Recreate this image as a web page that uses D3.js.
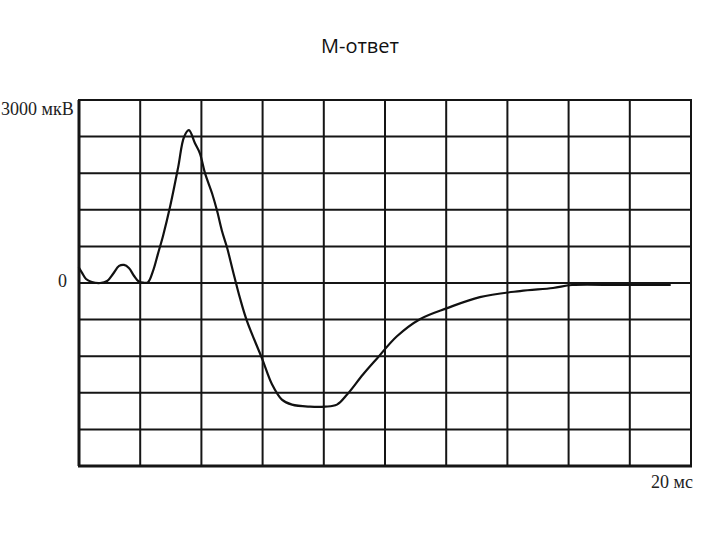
<!DOCTYPE html>
<html><head><meta charset="utf-8">
<script src="https://cdn.jsdelivr.net/npm/d3@7"></script>
<style>html,body{margin:0;padding:0;background:#fff;}</style>
</head><body>
<svg id="chart" width="720" height="540"></svg>
<script>
// Data (time in ms, amplitude in µV)
const timeMs = [0, 0.1, 0.23, 0.42, 0.69, 0.92, 1.11, 1.31, 1.47, 1.63, 1.8, 1.95, 2.1, 2.25, 2.42, 2.58, 2.75, 2.97, 3.24, 3.43, 3.59, 3.79, 3.95, 4.12, 4.35, 4.51, 4.67, 4.84, 5.03, 5.26, 5.49, 5.98, 6.31, 6.63, 6.96, 7.55, 8.04, 8.43, 8.76, 9.28, 9.74, 10.39, 11.14, 12.03, 13.1, 14.41, 15.49, 16.11, 17.68, 19.31];
const amplitude = [247, 165, 66, 16, 0, 33, 148, 280, 297, 247, 115, 25, 5, 10, 198, 478, 780, 1236, 1895, 2390, 2505, 2291, 2126, 1796, 1467, 1187, 857, 577, 198, -247, -626, -1236, -1664, -1912, -1994, -2027, -2027, -1994, -1829, -1500, -1236, -873, -593, -412, -231, -132, -82, -33, -33, -33];
const xGridTicks = [0, 2, 4, 6, 8, 10, 12, 14, 16, 18, 20];
const yGridTicks = [-3000, -2400, -1800, -1200, -600, 0, 600, 1200, 1800, 2400, 3000];
const title = "М-ответ";
const yTopLabel = "3000 мкВ";
const yZeroLabel = "0";
const xEndLabel = "20 мс";

const svg = d3.select("#chart");
const x = d3.scaleLinear().domain([0, 20]).range([79, 691]);
const y = d3.scaleLinear().domain([-3000, 3000]).range([466, 100]);

// grid
const g = svg.append("g");
g.selectAll("line.v").data(xGridTicks).enter().append("line")
  .attr("x1", d => x(d)).attr("x2", d => x(d))
  .attr("y1", y(3000)).attr("y2", y(-3000))
  .attr("stroke", "#151515").attr("stroke-width", d => d === 0 ? 3 : 2);
g.selectAll("line.h").data(yGridTicks).enter().append("line")
  .attr("x1", x(0) - 1).attr("x2", x(20) + 1)
  .attr("y1", d => y(d)).attr("y2", d => y(d))
  .attr("stroke", "#151515").attr("stroke-width", d => d === -3000 ? 3 : 2);

// curve
const pts = timeMs.map((t, i) => [t, amplitude[i]]);
const line = d3.line().x(d => x(d[0])).y(d => y(d[1])).curve(d3.curveCatmullRom.alpha(0.5));
svg.append("path").datum(pts).attr("d", line)
  .attr("fill", "none").attr("stroke", "#111").attr("stroke-width", 2.2)
  .attr("stroke-linejoin", "round").attr("stroke-linecap", "round");

// texts
svg.append("text").attr("x", 360).attr("y", 53).attr("text-anchor", "middle")
  .attr("font-family", "'Open Sans', 'Noto Sans', sans-serif").attr("font-size", 20).attr("fill", "#111")
  .text(title);
const serif = "'Liberation Serif', 'DejaVu Serif', serif";
svg.append("text").attr("x", 1).attr("y", 115).attr("font-family", serif).attr("font-size", 18).attr("fill", "#222")
  .text(yTopLabel);
svg.append("text").attr("x", 67).attr("y", 287).attr("text-anchor", "end").attr("font-family", serif).attr("font-size", 18).attr("fill", "#222")
  .text(yZeroLabel);
svg.append("text").attr("x", 693).attr("y", 488).attr("text-anchor", "end").attr("font-family", serif).attr("font-size", 18).attr("fill", "#222")
  .text(xEndLabel);
</script>
</body></html>
